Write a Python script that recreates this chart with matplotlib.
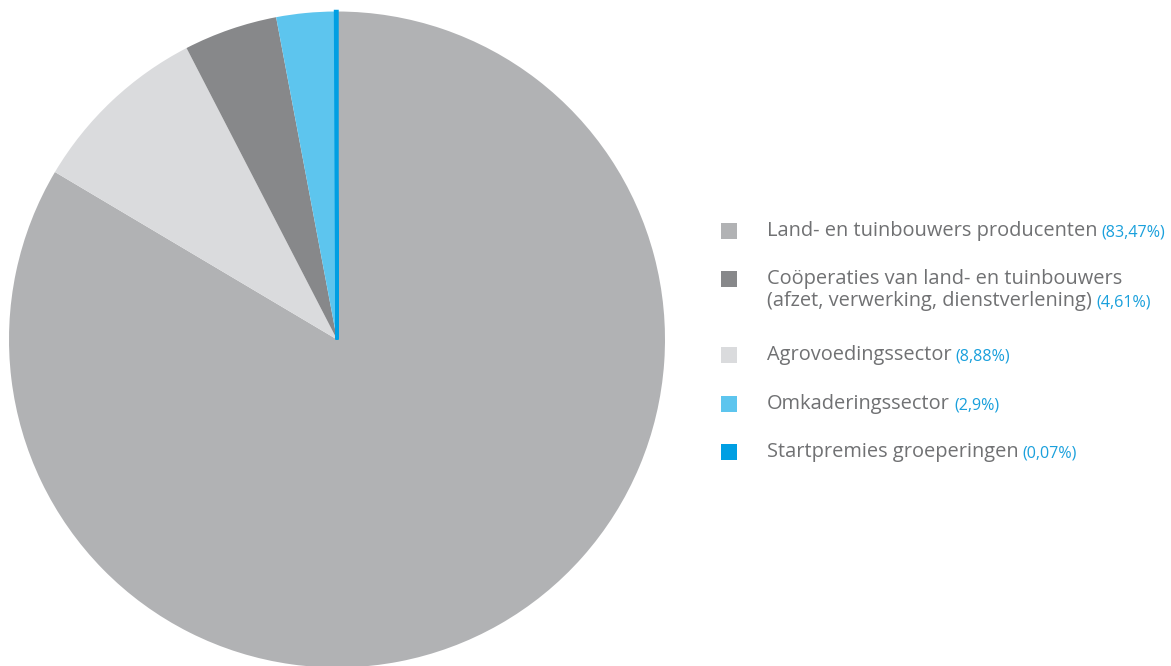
import matplotlib.pyplot as plt
from matplotlib.patches import Rectangle

labels = [
    ["Land- en tuinbouwers producenten"],
    ["Coöperaties van land- en tuinbouwers", "(afzet, verwerking, dienstverlening)"],
    ["Agrovoedingssector"],
    ["Omkaderingssector"],
    ["Startpremies groeperingen"],
]
pct_labels = ["(83,47%)", "(4,61%)", "(8,88%)", "(2,9%)", "(0,07%)"]
colors = ["#b1b2b4", "#87888a", "#dadbdd", "#5dc5ee", "#009fe3"]

# pie order (clockwise from top): producenten, agrovoeding, cooperaties, omkadering, startpremies
pie_order = [0, 2, 1, 3, 4]
pie_values = [83.47, 8.88, 4.61, 2.9, 0.07]
pie_colors = [colors[i] for i in pie_order]

W, H = 1171, 666
fig = plt.figure(figsize=(W / 100, H / 100), dpi=100)
ax = fig.add_axes([0, 0, 1, 1])

wedges, _ = ax.pie(pie_values, colors=pie_colors, startangle=90, counterclock=False,
                   center=(337, H - 339.5), radius=328, frame=True,
                   wedgeprops=dict(linewidth=0))
wedges[-1].set_edgecolor(pie_colors[-1])
wedges[-1].set_linewidth(2.5)

ax.set_xlim(0, W)
ax.set_ylim(0, H)
ax.set_aspect('equal')
ax.axis('off')

text_gray = "#707173"
pct_blue = "#1aa0dc"
row_y = [231, 279, 355, 404, 452]
line_gap = 22

for i, lines in enumerate(labels):
    y = H - row_y[i]
    ax.add_patch(Rectangle((721, y - 8), 16, 16, facecolor=colors[i], edgecolor='none'))
    t = None
    for j, line in enumerate(lines):
        t = ax.text(767, y - j * line_gap, line, fontsize=14.4, family='Open Sans',
                    color=text_gray, va='center', ha='left')
    ax.annotate(pct_labels[i], xy=(1, 0.5), xycoords=t, xytext=(3, -1),
                textcoords='offset points', fontsize=11.6, family='Open Sans',
                color=pct_blue, va='center', ha='left')

fig.savefig("out.png", dpi=100)
